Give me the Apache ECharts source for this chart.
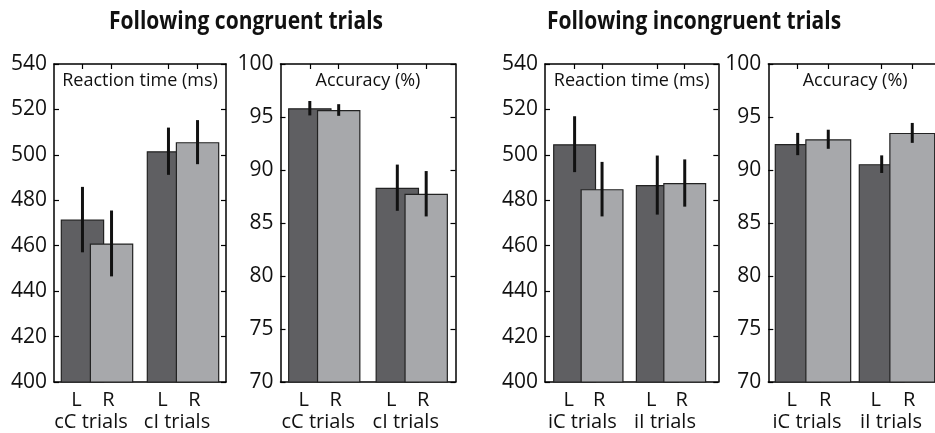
<!DOCTYPE html>
<html><head><meta charset="utf-8">
<script src="https://cdn.jsdelivr.net/npm/echarts@6/dist/echarts.min.js"></script>
<style>html,body{margin:0;padding:0;background:#fff}#c{width:935px;height:433px}</style>
</head><body><div id="c"></div>
<script>
// ---------- data ----------
const headings = ['Following congruent trials', 'Following incongruent trials'];
const measureNames = ['Reaction time (ms)', 'Accuracy (%)', 'Reaction time (ms)', 'Accuracy (%)'];
const sideLabels = ['L', 'R'];
const congruentCats = ['cC trials', 'cI trials'];
const incongruentCats = ['iC trials', 'iI trials'];

const congRT_L = [471.5, 501.6];
const congRT_R = [461.0, 505.6];
const congRT_Lerr = [14.4, 10.4];
const congRT_Rerr = [14.5, 9.7];

const congAcc_L = [95.83, 88.33];
const congAcc_R = [95.66, 87.76];
const congAcc_Lerr = [0.68, 2.18];
const congAcc_Rerr = [0.55, 2.14];

const incRT_L = [504.7, 486.7];
const incRT_R = [484.9, 487.6];
const incRT_Lerr = [12.3, 13.0];
const incRT_Rerr = [12.0, 10.4];

const incAcc_L = [92.45, 90.55];
const incAcc_R = [92.9, 93.5];
const incAcc_Lerr = [1.05, 0.83];
const incAcc_Rerr = [0.9, 0.94];

const rtRange = [400, 540, 20];
const accRange = [70, 100, 5];

// ---------- layout ----------
const FONT = '"Open Sans", "Noto Sans", sans-serif';
const DARK = '#5f5f62', LIGHT = '#a7a8ab', INK = '#111';
const TOP = 64, HEIGHT = 318;

const panels = [
  {cats: congruentCats, L: congRT_L, R: congRT_R, Le: congRT_Lerr, Re: congRT_Rerr, y: rtRange, name: measureNames[0],
   left: 54, width: 172, xMin: 0.5, xMax: 2.5, off: 0.169, barW: 43.5},
  {cats: congruentCats, L: congAcc_L, R: congAcc_R, Le: congAcc_Lerr, Re: congAcc_Rerr, y: accRange, name: measureNames[1],
   left: 280.5, width: 175, xMin: 0.5, xMax: 2.5, off: 0.165, barW: 43.5},
  {cats: incongruentCats, L: incRT_L, R: incRT_R, Le: incRT_Lerr, Re: incRT_Rerr, y: rtRange, name: measureNames[2],
   left: 545, width: 173.3, xMin: 0.476, xMax: 2.572, off: 0.166, barW: 43},
  {cats: incongruentCats, L: incAcc_L, R: incAcc_R, Le: incAcc_Lerr, Re: incAcc_Rerr, y: accRange, name: measureNames[3],
   left: 768.3, width: 173.7, xMin: 0.468, xMax: 2.536, off: 0.182, barW: 46}
];

const grids = [], xAxes = [], yAxes = [], series = [], titles = [];
const lineStyle = {color: '#000', width: 1.5};
const tickStyle = {color: '#000', width: 1.2};
const labelText = {fontSize: 20, color: INK, fontFamily: FONT};
const richLabels = {
  l: Object.assign({padding: [0, 12, 0, 0]}, labelText),
  r: Object.assign({padding: [0, 6, 0, 0]}, labelText),
  g: Object.assign({padding: [0, 12, 0, 0]}, labelText)
};

const headingGraphics = headings.map((h, k) => ({
  type: 'text', x: k === 0 ? 246 : 694, y: 22, scaleX: 0.84,
  style: {text: h, fontFamily: FONT, fontWeight: 'bold', fontSize: 25, fill: INK, align: 'center', verticalAlign: 'middle'}
}));

panels.forEach((p, i) => {
  grids.push({left: p.left, width: p.width, top: TOP, height: HEIGHT, outerBoundsMode: 'none', containLabel: false});
  const pos = [];
  p.cats.forEach((c, k) => { pos.push(k + 1 - p.off, k + 1 + p.off); });
  const side = v => (v - Math.round(v) < 0 ? '{l|' + sideLabels[0] + '}' : '{r|' + sideLabels[1] + '}');
  const xBase = {type: 'value', gridIndex: i, min: p.xMin, max: p.xMax, splitLine: {show: false}};
  xAxes.push(Object.assign({}, xBase, {position: 'bottom',
    axisLine: {show: true, onZero: false, lineStyle},
    axisTick: {show: true, inside: true, length: 5, customValues: pos, lineStyle: tickStyle},
    axisLabel: Object.assign({show: true, customValues: pos, margin: 8, formatter: side, rich: richLabels}, labelText)}));
  xAxes.push(Object.assign({}, xBase, {position: 'top',
    axisLine: {show: true, onZero: false, lineStyle},
    axisTick: {show: true, inside: true, length: 5, customValues: pos, lineStyle: tickStyle},
    axisLabel: {show: false}}));
  xAxes.push(Object.assign({}, xBase, {position: 'bottom',
    axisLine: {show: false, onZero: false}, axisTick: {show: false},
    axisLabel: Object.assign({show: true, customValues: [1, 2], margin: 30, rich: richLabels,
      formatter: v => '{g|' + p.cats[Math.round(v) - 1] + '}'}, labelText)}));
  const yBase = {type: 'value', gridIndex: i, min: p.y[0], max: p.y[1], interval: p.y[2], splitLine: {show: false},
    axisLine: {show: true, onZero: false, lineStyle},
    axisTick: {show: true, inside: true, length: 5, lineStyle: tickStyle}};
  yAxes.push(Object.assign({}, yBase, {position: 'left',
    axisLabel: {show: true, margin: 7, fontSize: 21, color: INK, fontFamily: FONT}}));
  yAxes.push(Object.assign({}, yBase, {position: 'right', axisLabel: {show: false}}));

  titles.push({text: p.name, left: p.left + p.width / 2, top: 72, padding: 0, textAlign: 'center',
    textStyle: {fontFamily: FONT, fontWeight: 'normal', fontSize: 18, color: INK}});

  const mk = (vals, sgn) => vals.map((v, k) => [k + 1 + sgn * p.off, v]);
  series.push({type: 'bar', xAxisIndex: 3 * i, yAxisIndex: 2 * i, data: mk(p.L, -1), barWidth: p.barW, barGap: '-100%',
    itemStyle: {color: DARK, borderColor: '#222', borderWidth: 1.2}, z: 2, animation: false});
  series.push({type: 'bar', xAxisIndex: 3 * i, yAxisIndex: 2 * i, data: mk(p.R, 1), barWidth: p.barW, barGap: '-100%',
    itemStyle: {color: LIGHT, borderColor: '#222', borderWidth: 1.2}, z: 3, animation: false});
  const errData = [];
  p.L.forEach((v, k) => errData.push([k + 1 - p.off, v - p.Le[k], v + p.Le[k]]));
  p.R.forEach((v, k) => errData.push([k + 1 + p.off, v - p.Re[k], v + p.Re[k]]));
  series.push({type: 'custom', xAxisIndex: 3 * i, yAxisIndex: 2 * i, data: errData, z: 5, animation: false,
    encode: {x: 0, y: [1, 2]},
    renderItem: (params, api) => {
      const x = api.value(0);
      const a = api.coord([x, api.value(1)]);
      const b = api.coord([x, api.value(2)]);
      return {type: 'line', shape: {x1: a[0], y1: a[1], x2: b[0], y2: b[1]}, style: {stroke: INK, lineWidth: 3}};
    }});
});

const chart = echarts.init(document.getElementById('c'), null, {renderer: 'canvas'});
chart.setOption({animation: false, backgroundColor: '#fff', title: titles, graphic: headingGraphics,
  grid: grids, xAxis: xAxes, yAxis: yAxes, series});
</script></body></html>
